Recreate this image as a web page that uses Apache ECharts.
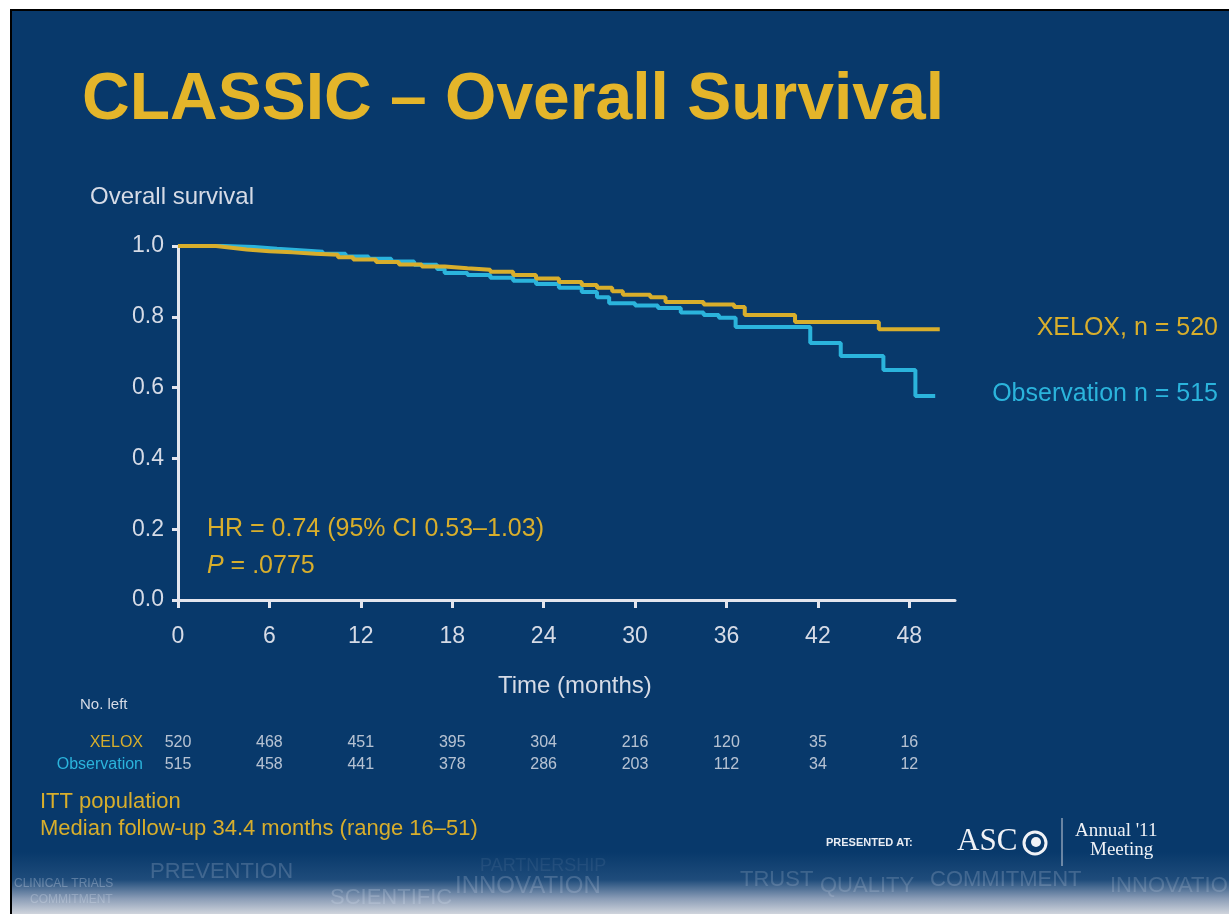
<!DOCTYPE html>
<html>
<head>
<meta charset="utf-8">
<script src="https://cdn.jsdelivr.net/npm/echarts@6/dist/echarts.min.js"></script>
<style>
  html, body { margin: 0; padding: 0; background: #fff; }
  #chart { width: 1229px; height: 914px; }
</style>
</head>
<body>
<div id="chart"></div>
<script>
// Kaplan-Meier steps: [month, survival from that month on]
const xeloxCurve = [
  [0, 1.0], [2.5, 0.995], [3.5, 0.99], [4.5, 0.985], [6, 0.982], [7.5, 0.978],
  [9, 0.975], [10.5, 0.968], [11.5, 0.962], [13, 0.955], [14.5, 0.948], [16, 0.942],
  [17.5, 0.937], [19, 0.933], [20.5, 0.927], [22, 0.918], [23.5, 0.908], [25, 0.898],
  [26.5, 0.89], [27.5, 0.882], [28.5, 0.872], [29.2, 0.862], [31, 0.855], [32, 0.842],
  [34.5, 0.835], [36.5, 0.828], [37.2, 0.805], [40.5, 0.785], [46, 0.765], [50, 0.765]
];
const obsCurve = [
  [0, 1.0], [3, 0.997], [5, 0.992], [6.5, 0.988], [8, 0.984], [9.5, 0.978],
  [11, 0.97], [12.5, 0.964], [14, 0.956], [15.5, 0.947], [17, 0.935], [17.5, 0.924],
  [19, 0.918], [20.5, 0.91], [22, 0.902], [23.5, 0.893], [25, 0.882], [26.5, 0.87],
  [27.5, 0.855], [28.3, 0.838], [30, 0.832], [31.5, 0.825], [33, 0.812], [34.5, 0.805],
  [35.5, 0.797], [36.6, 0.771], [41.5, 0.726], [43.5, 0.689], [46.3, 0.65], [48.4, 0.576],
  [49.7, 0.576]
];

const monthTicks = [0, 6, 12, 18, 24, 30, 36, 42, 48];
const armNames = ['XELOX', 'Observation'];
const xeloxAtRisk = [520, 468, 451, 395, 304, 216, 120, 35, 16];
const obsAtRisk = [515, 458, 441, 378, 286, 203, 112, 34, 12];

const GOLD = '#d8ae2c';
const CYAN = '#2bb4dc';
const AXIS = '#e4e6ee';
const BG = '#08396b';
const FONT = '"Liberation Sans", Arial, sans-serif';
const SERIF = '"Liberation Serif", "DejaVu Serif", serif';

const chart = echarts.init(document.getElementById('chart'));

const atRiskPoints = [];
monthTicks.forEach((m, i) => {
  atRiskPoints.push([m, 'XELOX', xeloxAtRisk[i]]);
  atRiskPoints.push([m, 'Observation', obsAtRisk[i]]);
});

// faint words in the textured footer band
const bandWords = [
  { t: 'PREVENTION', x: 150, y: 872, s: 22, o: 0.2 },
  { t: 'PARTNERSHIP', x: 480, y: 866, s: 18, o: 0.08 },
  { t: 'INNOVATION', x: 455, y: 886, s: 24, o: 0.2 },
  { t: 'TRUST', x: 740, y: 880, s: 22, o: 0.18 },
  { t: 'QUALITY', x: 820, y: 886, s: 22, o: 0.18 },
  { t: 'COMMITMENT', x: 930, y: 880, s: 22, o: 0.2 },
  { t: 'INNOVATION', x: 1110, y: 886, s: 22, o: 0.18 },
  { t: 'CLINICAL TRIALS', x: 14, y: 884, s: 12, o: 0.3 },
  { t: 'SCIENTIFIC', x: 330, y: 898, s: 22, o: 0.22 },
  { t: 'COMMITMENT', x: 30, y: 900, s: 12, o: 0.28 }
];

chart.setOption({
  backgroundColor: '#ffffff',
  animation: false,
  textStyle: { fontFamily: FONT },
  graphic: [
    { type: 'rect', shape: { x: 10, y: 9, width: 1219, height: 905 }, style: { fill: '#000' }, z: -10 },
    { type: 'rect', shape: { x: 12, y: 11, width: 1217, height: 903 }, style: { fill: BG }, z: -9 },
    {
      type: 'rect', shape: { x: 12, y: 852, width: 1217, height: 62 }, z: -8,
      style: {
        fill: new echarts.graphic.LinearGradient(0, 0, 0, 1, [
          { offset: 0, color: BG },
          { offset: 0.45, color: '#1f4c7b' },
          { offset: 0.75, color: '#8a9cb6' },
          { offset: 1, color: '#cfd4dc' }
        ])
      }
    },
    ...bandWords.map(w => ({
      type: 'text', left: w.x, top: w.y - w.s / 2, z: -7,
      style: { text: w.t, fill: 'rgba(225,232,245,' + w.o + ')', font: w.s + 'px ' + FONT }
    })),
    {
      type: 'text', left: 82, top: 68,
      style: { text: 'CLASSIC – Overall Survival', fill: '#e4b52a', font: 'bold 66px ' + FONT }
    },
    {
      type: 'text', left: 90, top: 185,
      style: { text: 'Overall survival', fill: '#d6dbe6', font: '24px ' + FONT }
    },
    {
      type: 'text', left: 207, top: 517,
      style: { text: 'HR = 0.74 (95% CI 0.53–1.03)', fill: GOLD, font: '25px ' + FONT }
    },
    {
      type: 'text', left: 207, top: 554,
      style: {
        text: '{i|P} = .0775', fill: GOLD, font: '25px ' + FONT,
        rich: { i: { fontStyle: 'italic', fontSize: 25, fontFamily: FONT, fill: GOLD } }
      }
    },
    {
      type: 'text', right: 11, top: 316,
      style: { text: 'XELOX, n = 520', fill: GOLD, font: '25px ' + FONT }
    },
    {
      type: 'text', right: 11, top: 382,
      style: { text: 'Observation n = 515', fill: CYAN, font: '25px ' + FONT }
    },
    {
      type: 'text', left: 498, top: 674,
      style: { text: 'Time (months)', fill: '#d6dbe6', font: '24px ' + FONT }
    },
    {
      type: 'text', left: 80, top: 697,
      style: { text: 'No. left', fill: '#d6dbe6', font: '15px ' + FONT }
    },
    {
      type: 'text', left: 40, top: 791,
      style: { text: 'ITT population', fill: GOLD, font: '22px ' + FONT }
    },
    {
      type: 'text', left: 40, top: 818,
      style: { text: 'Median follow-up 34.4 months (range 16–51)', fill: GOLD, font: '22px ' + FONT }
    },
    {
      type: 'text', left: 826, top: 837,
      style: { text: 'PRESENTED AT:', fill: '#e8ecf3', font: 'bold 11px ' + FONT }
    },
    {
      type: 'text', left: 957, top: 826,
      style: { text: 'ASC', fill: '#f0f2f6', font: '31px ' + SERIF }
    },
    { type: 'circle', shape: { cx: 1035, cy: 843, r: 11 }, style: { fill: 'none', stroke: '#f0f2f6', lineWidth: 3 } },
    { type: 'circle', shape: { cx: 1036, cy: 842, r: 5 }, style: { fill: '#f0f2f6' } },
    { type: 'line', shape: { x1: 1062, y1: 818, x2: 1062, y2: 866 }, style: { stroke: '#c9d0dc', lineWidth: 1 } },
    {
      type: 'text', left: 1075, top: 822,
      style: { text: "Annual '11", fill: '#f0f2f6', font: '19px ' + SERIF }
    },
    {
      type: 'text', left: 1090, top: 841,
      style: { text: 'Meeting', fill: '#f0f2f6', font: '19px ' + SERIF }
    }
  ],
  grid: [
    { left: 178, right: 274, top: 246, bottom: 314, containLabel: false },
    { left: 178, right: 274, top: 732, height: 44, containLabel: false }
  ],
  xAxis: [
    {
      gridIndex: 0, type: 'value', min: 0, max: 51,
      splitLine: { show: false },
      axisLine: { lineStyle: { color: AXIS, width: 3 } },
      axisTick: { customValues: monthTicks, length: 8, lineStyle: { color: AXIS, width: 3 } },
      axisLabel: { customValues: monthTicks, color: '#d6dbe6', fontSize: 23, margin: 25, fontFamily: FONT }
    },
    {
      gridIndex: 1, type: 'value', min: 0, max: 51, show: false
    }
  ],
  yAxis: [
    {
      gridIndex: 0, type: 'value', min: 0, max: 1, interval: 0.2,
      splitLine: { show: false },
      axisLine: { show: true, lineStyle: { color: AXIS, width: 3 } },
      axisTick: { show: true, length: 6, lineStyle: { color: AXIS, width: 3 } },
      axisLabel: {
        color: '#d6dbe6', fontSize: 23, margin: 14, fontFamily: FONT,
        formatter: v => v.toFixed(1)
      }
    },
    {
      gridIndex: 1, type: 'category', data: armNames, inverse: true,
      axisLine: { show: false }, axisTick: { show: false }, splitLine: { show: false },
      axisLabel: {
        fontSize: 16, margin: 35, fontFamily: FONT,
        color: (v) => (v === 'XELOX' ? GOLD : CYAN)
      }
    }
  ],
  series: [
    {
      name: 'Observation', type: 'line', step: 'end', data: obsCurve,
      xAxisIndex: 0, yAxisIndex: 0, showSymbol: false, symbol: 'none',
      lineStyle: { color: CYAN, width: 4 }, z: 2
    },
    {
      name: 'XELOX', type: 'line', step: 'end', data: xeloxCurve,
      xAxisIndex: 0, yAxisIndex: 0, showSymbol: false, symbol: 'none',
      lineStyle: { color: GOLD, width: 4 }, z: 3
    },
    {
      name: 'No. left', type: 'scatter', data: atRiskPoints,
      xAxisIndex: 1, yAxisIndex: 1, symbolSize: 1,
      itemStyle: { color: 'rgba(0,0,0,0)' },
      label: {
        show: true, position: 'inside', formatter: p => p.value[2],
        color: '#e2e5ec', fontSize: 16, fontFamily: FONT
      }
    }
  ]
});
</script>
</body>
</html>
